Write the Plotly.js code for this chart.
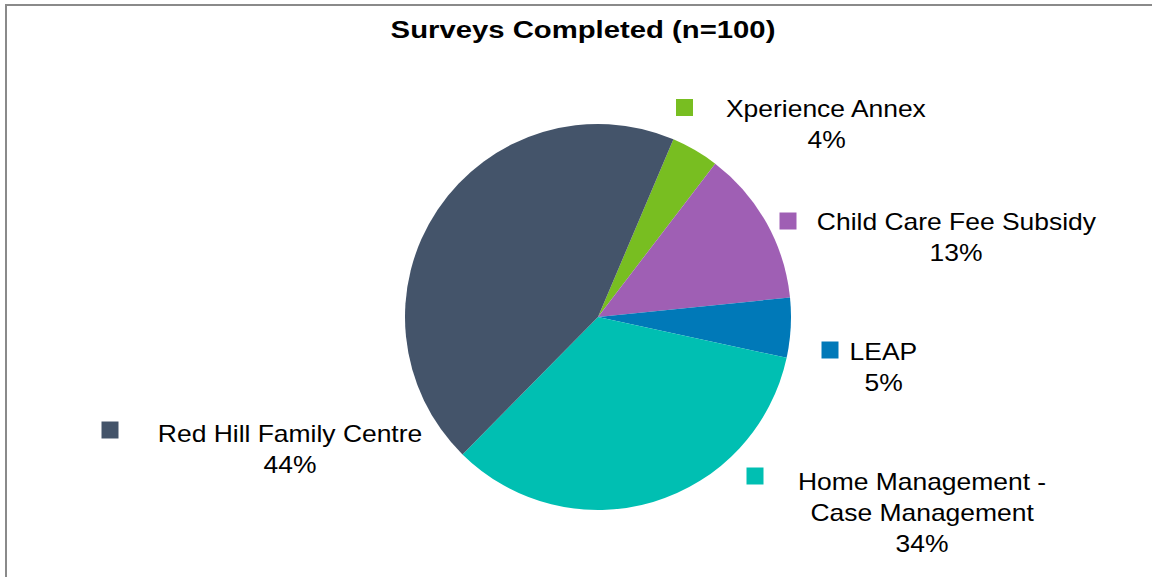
<!DOCTYPE html>
<html>
<head>
<meta charset="utf-8">
<script src="https://cdn.plot.ly/plotly-3.0.1.min.js"></script>
<style>
  html, body { margin: 0; padding: 0; background: #ffffff; overflow: hidden; }
  #chart { position: absolute; left: 0; top: 0; width: 1152px; height: 577px; }
  #frame { position: absolute; left: 5px; top: 4px; width: 1300px; height: 700px;
           border: 2px solid #8a8a8a; pointer-events: none; }
</style>
</head>
<body>
<div id="chart"></div>
<div id="frame"></div>
<script>
// ---- data ----
const categories = ["Xperience Annex", "Child Care Fee Subsidy", "LEAP",
                    "Home Management -\nCase Management", "Red Hill Family Centre"];
const values = [4, 13, 5, 34, 44];
const colors = ["#78BE21", "#9F5FB4", "#0079B8", "#00BFB2", "#44546A"];
const titleText = "Surveys Completed (n=100)";

// ---- layout helpers (pixel positions of the external data labels) ----
const W = 1152, H = 577;
const labelPos = [
  {kx: 684.5, ky: 107.5, tx: 826, ty: 109},
  {kx: 788,   ky: 221,   tx: 956, ty: 222},
  {kx: 830,   ky: 350,   tx: 883, ty: 352},
  {kx: 755,   ky: 476,   tx: 922, ty: 482},
  {kx: 110,   ky: 430,   tx: 290, ty: 434}
];
const lineGap = 31;
const fx = px => px / W;
const fy = py => 1 - py / H;

const total = values.reduce((a, b) => a + b, 0);
const annotations = [];
const shapes = [];
categories.forEach((cat, i) => {
  const p = labelPos[i];
  const lines = cat.split("\n").concat([Math.round(values[i] / total * 100) + "%"]);
  lines.forEach((ln, j) => {
    annotations.push({
      xref: "paper", yref: "paper", x: fx(p.tx), y: fy(p.ty + j * lineGap),
      xanchor: "center", yanchor: "middle", showarrow: false, text: ln,
      font: {family: "Liberation Sans, Arial, sans-serif", size: 23, color: "#000000"}
    });
  });
  const s = 8.5;
  shapes.push({
    type: "rect", xref: "paper", yref: "paper",
    x0: fx(p.kx - s), x1: fx(p.kx + s), y0: fy(p.ky + s), y1: fy(p.ky - s),
    fillcolor: colors[i], line: {width: 0}
  });
});

const trace = {
  type: "pie",
  labels: categories.map(c => c.replace("\n", " ")),
  values: values,
  sort: false,
  direction: "clockwise",
  rotation: 23,
  marker: {colors: colors, line: {width: 0}},
  textinfo: "none",
  hoverinfo: "none",
  showlegend: false,
  domain: {x: [405 / W, 791 / W], y: [1 - 510 / H, 1 - 124 / H]}
};

const layout = {
  width: W, height: H,
  margin: {l: 0, r: 0, t: 0, b: 0},
  paper_bgcolor: "#ffffff",
  showlegend: false,
  title: {
    text: "<b>" + titleText + "</b>",
    x: 583 / W, xanchor: "center",
    y: fy(30), yanchor: "middle",
    font: {family: "Liberation Sans, Arial, sans-serif", size: 24, color: "#000000"}
  },
  annotations: annotations,
  shapes: shapes
};

Plotly.newPlot("chart", [trace], layout, {displayModeBar: false, staticPlot: true}).then(() => {
  // widen text horizontally to match the reference's lettering width
  const widen = (sel, sx) => document.querySelectorAll(sel).forEach(t => {
    const bb = t.getBBox();
    const cx = bb.x + bb.width / 2;
    t.setAttribute("transform", `translate(${cx},0) scale(${sx},1) translate(${-cx},0)`);
  });
  widen("#chart .annotation-text", 1.15);
  widen("#chart .gtitle", 1.22);
});
</script>
</body>
</html>
